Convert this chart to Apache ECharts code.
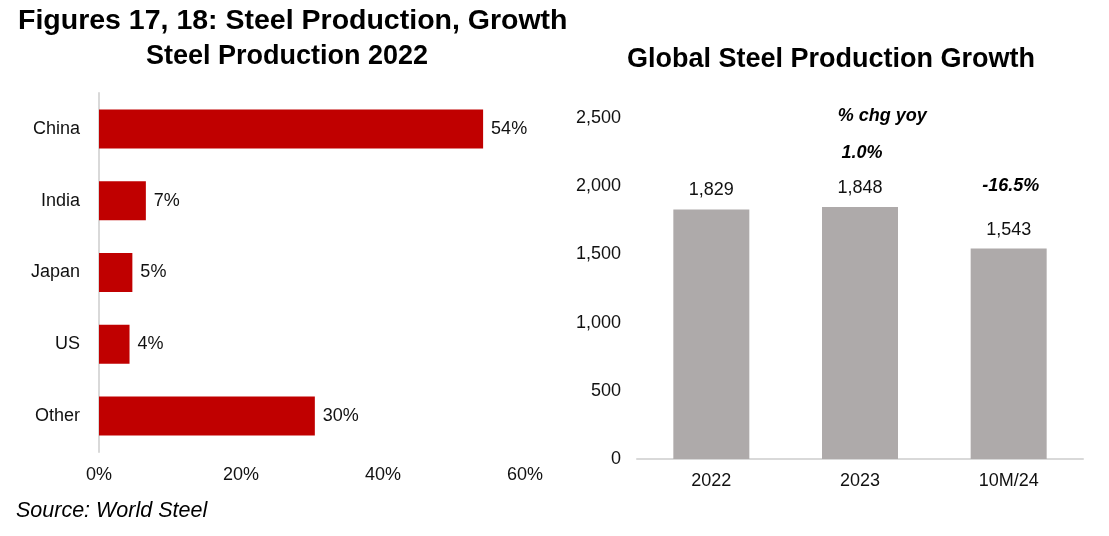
<!DOCTYPE html>
<html>
<head>
<meta charset="utf-8">
<script src="https://cdn.jsdelivr.net/npm/echarts@6/dist/echarts.min.js"></script>
<style>
html,body{margin:0;padding:0;background:#fff;}
#chart{width:1109px;height:536px;}
</style>
</head>
<body>
<div id="chart"></div>
<script>
// Left panel: share of steel production 2022 (%)
var shareCategories = ['China', 'India', 'Japan', 'US', 'Other'];
var shareValues = [54.1, 6.6, 4.7, 4.3, 30.4];
var shareTicks = [0, 20, 40, 60];

// Right panel: global steel production (Mt)
var prodCategories = ['2022', '2023', '10M/24'];
var prodValues = [1829, 1848, 1543];
var growthLabels = ['', '1.0%', '-16.5%'];
var prodTicks = [0, 500, 1000, 1500, 2000, 2500];

var FONT = '"Liberation Sans", Arial, sans-serif';
var chart = echarts.init(document.getElementById('chart'));

function fmtComma(v){ return String(v).replace(/\B(?=(\d{3})+(?!\d))/g, ','); }

var option = {
  backgroundColor: '#ffffff',
  textStyle: { fontFamily: FONT, color: '#000' },
  animation: false,
  grid: [
    { left: 99, top: 93, width: 426, height: 359 },
    { left: 637, top: 118, width: 446, height: 341 }
  ],
  xAxis: [
    {
      gridIndex: 0, type: 'value',
      min: shareTicks[0], max: shareTicks[shareTicks.length - 1], interval: 20,
      axisLine: { show: false }, axisTick: { show: false }, splitLine: { show: false },
      axisLabel: { formatter: '{value}%', fontSize: 18, color: '#111', margin: 14, fontFamily: FONT }
    },
    {
      gridIndex: 1, type: 'category', data: prodCategories,
      axisLine: { show: true, lineStyle: { color: '#d9d9d9', width: 2 } },
      axisTick: { show: false },
      axisLabel: { fontSize: 18, color: '#111', margin: 13, fontFamily: FONT }
    }
  ],
  yAxis: [
    {
      gridIndex: 0, type: 'category', data: shareCategories, inverse: true,
      axisLine: { show: true, lineStyle: { color: '#d9d9d9', width: 2 } },
      axisTick: { show: false },
      axisLabel: { fontSize: 18, color: '#111', margin: 19, fontFamily: FONT }
    },
    {
      gridIndex: 1, type: 'value',
      min: prodTicks[0], max: prodTicks[prodTicks.length - 1], interval: 500,
      axisLine: { show: false }, axisTick: { show: false }, splitLine: { show: false },
      axisLabel: { formatter: function(v){ return fmtComma(v); }, fontSize: 18, color: '#111', margin: 16, fontFamily: FONT }
    }
  ],
  series: [
    {
      type: 'bar', xAxisIndex: 0, yAxisIndex: 0, data: shareValues,
      barWidth: 39,
      itemStyle: { color: '#c00000' },
      label: {
        show: true, position: 'right', distance: 8, fontSize: 18, color: '#111', fontFamily: FONT,
        formatter: function(p){ return Math.round(p.value) + '%'; }
      }
    },
    {
      type: 'bar', xAxisIndex: 1, yAxisIndex: 1, data: prodValues,
      barWidth: 76,
      itemStyle: { color: '#aeaaaa' },
      label: {
        show: true, position: 'top', distance: 10, fontSize: 18, color: '#111', fontFamily: FONT,
        formatter: function(p){ return fmtComma(p.value); }
      }
    }
  ]
};
chart.setOption(option);

// Titles, annotations, source
var graphics = [
  { type: 'text', left: 18, top: 7, style: { text: 'Figures 17, 18: Steel Production, Growth', font: 'bold 28.5px ' + FONT, fill: '#000' } },
  { type: 'text', x: 287, y: 57, style: { text: 'Steel Production 2022', font: 'bold 27px ' + FONT, fill: '#000', textAlign: 'center', textVerticalAlign: 'middle' } },
  { type: 'text', x: 831, y: 60, style: { text: 'Global Steel Production Growth', font: 'bold 27px ' + FONT, fill: '#000', textAlign: 'center', textVerticalAlign: 'middle' } },
  { type: 'text', x: 16, y: 511, style: { text: 'Source: World Steel', font: 'italic 21.5px ' + FONT, fill: '#000', textVerticalAlign: 'middle' } }
];
var c2 = chart.convertToPixel({ xAxisIndex: 1 }, prodCategories[1]);
var c3 = chart.convertToPixel({ xAxisIndex: 1 }, prodCategories[2]);
graphics.push({ type: 'text', x: (c2 + c3) / 2 - 52, y: 116, style: { text: '% chg yoy', font: 'italic bold 18px ' + FONT, fill: '#000', textAlign: 'center', textVerticalAlign: 'middle' } });
var growthY = [0, 153, 186];
growthLabels.forEach(function(g, i){
  if (!g) return;
  var cx = chart.convertToPixel({ xAxisIndex: 1 }, prodCategories[i]);
  graphics.push({ type: 'text', x: cx + 2, y: growthY[i], style: { text: g, font: 'italic bold 18px ' + FONT, fill: '#000', textAlign: 'center', textVerticalAlign: 'middle' } });
});
chart.setOption({ graphic: graphics });
</script>
</body>
</html>
